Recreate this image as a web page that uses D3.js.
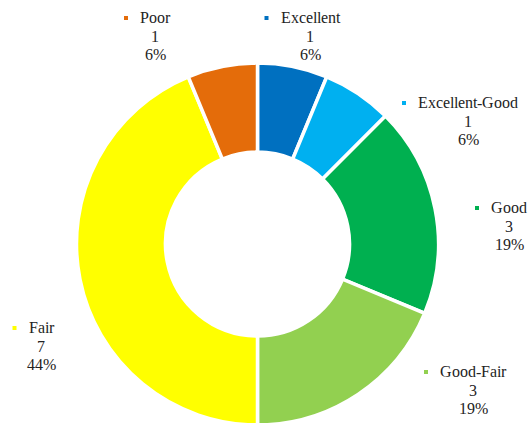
<!DOCTYPE html>
<html>
    <head>
        <meta charset="utf-8">
        <title>Rating donut</title>
        <script type="text/javascript" src="https://cdn.jsdelivr.net/npm/d3@7"></script>
        <style>
            @font-face { font-family: "LabelSerif"; src: local("Liberation Serif"), local("LiberationSerif"), local("LiberationSerif-Regular"); }
            body { margin: 0; }
            svg { font-family: "LabelSerif", "Liberation Serif", "Times New Roman", serif; }
        </style>
    </head>
    <body>
        <script type="text/javascript">
            var w = 532;
            var h = 423;

            // data
            var categories = ["Excellent", "Excellent-Good", "Good", "Good-Fair", "Fair", "Poor"];
            var counts = [1, 1, 3, 3, 7, 1];
            var colors = ["#0070C0", "#00B0F0", "#00B050", "#92D050", "#FFFF00", "#E46C0A"];

            // label block anchors (centre of category line, its baseline)
            var labelPos = [[310, 23], [468, 108], [509, 213], [473, 377], [41, 333], [155, 23]];

            var cx = 257.5, cy = 244;
            var outerR = 181, innerR = 92;
            var lineGap = 18.5;

            var total = d3.sum(counts);
            var dataset = categories.map(function (c, i) { return {name: c, value: counts[i], color: colors[i], pos: labelPos[i]}; });

            var svg = d3.select("body").append("svg").attr("width", w).attr("height", h);

            var pie = d3.pie().sort(null).value(function (d) { return d.value; });
            var arc = d3.arc().innerRadius(innerR).outerRadius(outerR);

            var g = svg.append("g").attr("transform", "translate(" + cx + "," + cy + ")");
            g.selectAll("path").data(pie(dataset)).enter().append("path")
             .attr("d", arc)
             .attr("fill", function (d) { return d.data.color; })
             .attr("stroke", "white")
             .attr("stroke-width", 3.5);

            // labels: category / count / percent, centred
            dataset.forEach(function (d) {
                var lines = [d.name, String(d.value), Math.round(d.value / total * 100) + "%"];
                lines.forEach(function (t, k) {
                    svg.append("text")
                       .attr("x", d.pos[0])
                       .attr("y", d.pos[1] + k * lineGap)
                       .attr("text-anchor", "middle")
                       .attr("font-size", 16)
                       .attr("fill", "#222")
                       .text(t);
                });
            });

            // colour squares left of the category names (placed once the font is in)
            function placeKeys() {
                svg.selectAll("rect.key").remove();
                svg.selectAll("text").each(function () {
                    var t = d3.select(this);
                    var d = dataset.find(function (e) { return e.name === t.text() && +t.attr("y") === e.pos[1]; });
                    if (!d) return;
                    var len = this.getComputedTextLength();
                    svg.append("rect")
                       .attr("class", "key")
                       .attr("x", d.pos[0] - len / 2 - 16)
                       .attr("y", d.pos[1] - 7)
                       .attr("width", 4)
                       .attr("height", 4)
                       .attr("fill", d.color);
                });
            }
            placeKeys();
            if (document.fonts) document.fonts.ready.then(placeKeys);
        </script>
    </body>
</html>
